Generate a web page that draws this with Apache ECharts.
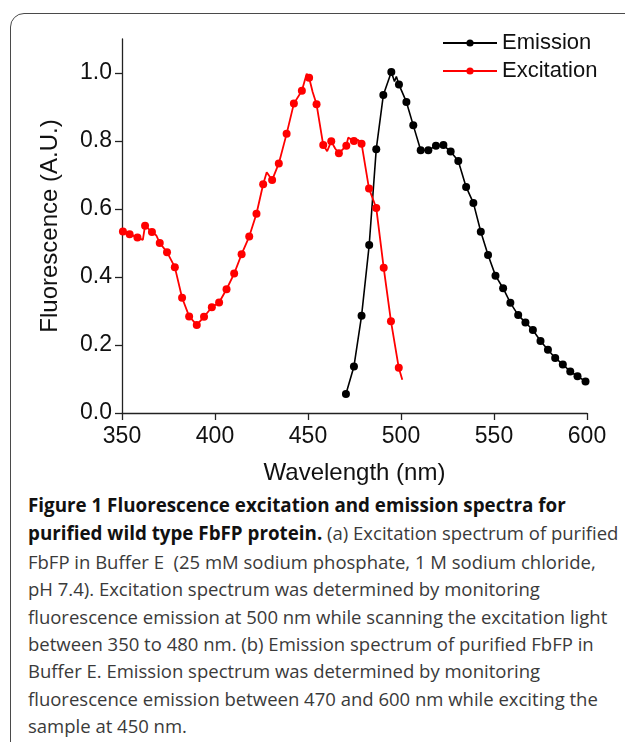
<!DOCTYPE html>
<html>
<head>
<meta charset="utf-8">
<script src="https://cdn.jsdelivr.net/npm/echarts@6/dist/echarts.min.js"></script>
<style>
  html, body { margin: 0; padding: 0; background: #fff; width: 625px; height: 742px; overflow: hidden; }
  #frame {
    position: absolute; left: 10px; top: 13px; width: 720px; height: 760px;
    border: 1.5px solid #4a4a4a; border-radius: 14px; box-sizing: border-box;
  }
  #chart { position: absolute; left: 0; top: 0; width: 625px; height: 490px; }
  #caption {
    position: absolute; left: 28px; top: 491px; white-space: nowrap;
    font-family: "Open Sans", sans-serif; font-size: 18.5px; line-height: 27.4px; color: #3a3a3a;
  }
  #caption b { color: #111; font-weight: 700; font-size: 18.8px; }
</style>
</head>
<body>
<div id="frame"></div>
<div id="chart"></div>
<div id="caption">
  <b>Figure 1 Fluorescence excitation and emission spectra for</b><br>
  <b>purified wild type FbFP protein.</b> (a) Excitation spectrum of purified<br>
  FbFP in Buffer E &nbsp;(25 mM sodium phosphate, 1 M sodium chloride,<br>
  pH 7.4). Excitation spectrum was determined by monitoring<br>
  fluorescence emission at 500 nm while scanning the excitation light<br>
  between 350 to 480 nm. (b) Emission spectrum of purified FbFP in<br>
  Buffer E. Emission spectrum was determined by monitoring<br>
  fluorescence emission between 470 and 600 nm while exciting the<br>
  sample at 450 nm.
</div>
<script>
  // marked points (with dots)
  var emissionWl = [470.4, 474.7, 478.8, 482.9, 486.7, 490.5, 494.8, 498.9, 502.9, 506.6, 510.6,
    514.7, 518.8, 522.8, 526.7, 530.8, 535.0, 538.9, 542.9, 546.8, 550.8, 554.9, 558.8, 563.0,
    566.9, 570.9, 575.0, 579.0, 582.9, 587.0, 591.0, 594.9, 599.2]
  var emissionVal = [0.056, 0.137, 0.286, 0.494, 0.776, 0.935, 1.003, 0.966, 0.915, 0.846, 0.773,
    0.773, 0.786, 0.788, 0.769, 0.741, 0.665, 0.618, 0.533, 0.465, 0.404, 0.367, 0.324, 0.288,
    0.266, 0.244, 0.212, 0.186, 0.162, 0.143, 0.122, 0.108, 0.093]
  // raw points between the dots
  var emissionRawWl = [496.5, 497.5]
  var emissionRawVal = [0.975, 0.99]

  var excitationWl = [350.5, 354.1, 358.3, 362.4, 366.1, 370.3, 374.2, 378.4, 382.3, 386.1, 390.2,
    394.1, 398.3, 402.2, 406.2, 410.3, 414.3, 418.4, 422.3, 425.9, 430.7, 434.3, 438.5, 442.4,
    446.7, 450.6, 454.6, 458.2, 462.5, 466.6, 470.6, 474.7, 478.8, 482.8, 486.7, 490.7, 494.6, 498.8]
  var excitationVal = [0.534, 0.526, 0.516, 0.551, 0.532, 0.500, 0.473, 0.429, 0.339, 0.284, 0.259,
    0.283, 0.311, 0.325, 0.364, 0.410, 0.467, 0.519, 0.586, 0.673, 0.685, 0.734, 0.821, 0.910,
    0.948, 0.986, 0.908, 0.788, 0.799, 0.764, 0.786, 0.800, 0.792, 0.660, 0.603, 0.427, 0.270, 0.133]
  var excitationRawWl = [361.2, 368.5, 427.8, 449.3, 452.5, 460.3, 464.6, 471.6, 476.9, 500.7]
  var excitationRawVal = [0.509, 0.522, 0.708, 0.998, 0.944, 0.770, 0.778, 0.810, 0.803, 0.098]

  var xTicks = [350, 400, 450, 500, 550, 600]
  var yTicks = [0, 0.2, 0.4, 0.6, 0.8, 1.0]

  function buildData(wl, val, rawWl, rawVal) {
    var pts = []
    wl.forEach(function (w, i) { pts.push({value: [w, val[i]]}) })
    rawWl.forEach(function (w, i) { pts.push({value: [w, rawVal[i]], symbol: 'none'}) })
    pts.sort(function (a, b) { return a.value[0] - b.value[0] })
    return pts
  }

  var chart = echarts.init(document.getElementById('chart'))
  var axisFont = 'Liberation Sans, Arial, sans-serif'

  chart.setOption({
    animation: false,
    grid: {left: 122, right: 38, top: 39, bottom: 75},
    legend: {
      orient: 'vertical',
      left: 437,
      top: 27,
      itemWidth: 54,
      itemHeight: 9,
      itemGap: 6,
      textStyle: {fontFamily: axisFont, fontSize: 22, color: '#111'},
      data: ['Emission', 'Excitation']
    },
    xAxis: {
      type: 'value',
      min: 350,
      max: 600,
      interval: 50,
      name: 'Wavelength (nm)',
      nameLocation: 'middle',
      nameGap: 48,
      nameTextStyle: {fontFamily: axisFont, fontSize: 24, color: '#111'},
      axisLine: {lineStyle: {color: '#222', width: 1.3}},
      axisTick: {length: 7, lineStyle: {color: '#222', width: 1.3}, customValues: xTicks},
      axisLabel: {fontFamily: axisFont, fontSize: 23, color: '#111', margin: 12, customValues: xTicks},
      splitLine: {show: false}
    },
    yAxis: {
      type: 'value',
      min: 0,
      max: 1.1,
      interval: 0.2,
      name: 'Fluorescence (A.U.)',
      nameLocation: 'middle',
      nameGap: 60,
      nameTextStyle: {fontFamily: axisFont, fontSize: 24, color: '#111'},
      axisLine: {show: true, lineStyle: {color: '#222', width: 1.3}},
      axisTick: {show: true, length: 7, lineStyle: {color: '#222', width: 1.3}, customValues: yTicks},
      axisLabel: {
        fontFamily: axisFont, fontSize: 23, color: '#111', margin: 10, customValues: yTicks,
        formatter: function (v) { return v.toFixed(1) }
      },
      splitLine: {show: false}
    },
    series: [
      {
        name: 'Emission',
        type: 'line',
        symbol: 'circle',
        symbolSize: 8,
        itemStyle: {color: '#000'},
        lineStyle: {color: '#000', width: 1.6},
        data: buildData(emissionWl, emissionVal, emissionRawWl, emissionRawVal)
      },
      {
        name: 'Excitation',
        type: 'line',
        symbol: 'circle',
        symbolSize: 8,
        itemStyle: {color: '#ff0000'},
        lineStyle: {color: '#ff0000', width: 1.8},
        data: buildData(excitationWl, excitationVal, excitationRawWl, excitationRawVal)
      }
    ]
  })
</script>
</body>
</html>
